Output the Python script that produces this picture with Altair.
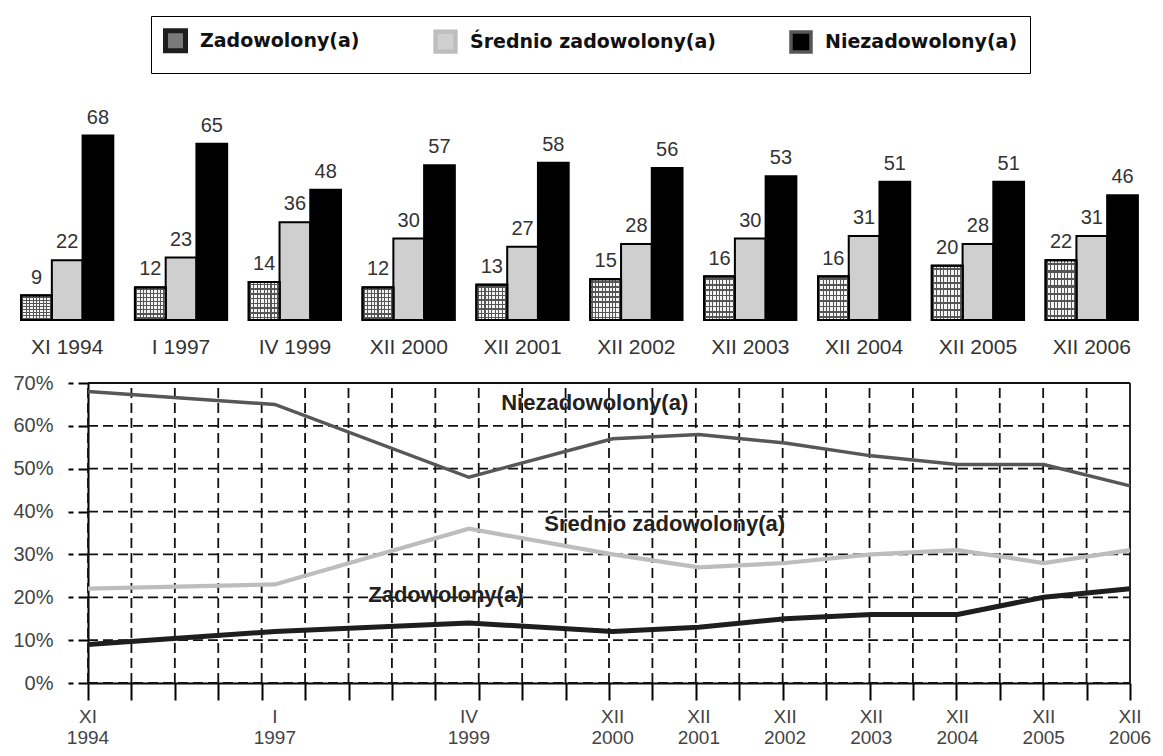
import altair as alt
import pandas as pd

# ---------------- data ----------------
periods = ["XI 1994", "I 1997", "IV 1999", "XII 2000", "XII 2001",
           "XII 2002", "XII 2003", "XII 2004", "XII 2005", "XII 2006"]
series = ["Zadowolony(a)", "Średnio zadowolony(a)", "Niezadowolony(a)"]
zadowolony = [9, 12, 14, 12, 13, 15, 16, 16, 20, 22]
srednio = [22, 23, 36, 30, 27, 28, 30, 31, 28, 31]
niezadowolony = [68, 65, 48, 57, 58, 56, 53, 51, 51, 46]

y_ticks = [0, 0.1, 0.2, 0.3, 0.4, 0.5, 0.6, 0.7]

# in-plot line labels (data coordinates: months since XI 1994, share)
line_label_text = ["Zadowolony(a)", "Średnio zadowolony(a)", "Niezadowolony(a)"]
line_label_month = [39.0, 63.5, 57.5]
line_label_share = [0.205, 0.37, 0.653]

ROMAN = {"I": 1, "II": 2, "III": 3, "IV": 4, "V": 5, "VI": 6, "VII": 7,
         "VIII": 8, "IX": 9, "X": 10, "XI": 11, "XII": 12}


def months_since_start(label):
    m, y = label.split()
    return (int(y) - 1994) * 12 + ROMAN[m] - 11


rows = []
for i, p in enumerate(periods):
    for s, vals in zip(series, [zadowolony, srednio, niezadowolony]):
        rows.append({"period": p, "series": s, "value": vals[i],
                     "share": vals[i] / 100, "month": months_since_start(p)})
df = pd.DataFrame(rows)
period_df = pd.DataFrame({"period": periods,
                          "month": [months_since_start(p) for p in periods],
                          "xlabel": [p.replace(" ", "\n") for p in periods]})
label_df = pd.DataFrame({"label": line_label_text, "month": line_label_month,
                         "share": line_label_share})

span = months_since_start(periods[-1])
grid_months = [span * i / 24 for i in range(25)]
hgrid_df = pd.DataFrame({"share": y_ticks, "month": [0] * len(y_ticks),
                         "month2": [span] * len(y_ticks)})
vgrid_df = pd.DataFrame({"month": grid_months, "share": [0] * len(grid_months),
                         "share2": [y_ticks[-1]] * len(grid_months)})

FONT = "Liberation Sans"


def stripes(n, line, bg, frac=0.3, horizontal=False):
    stops = [{"offset": 0, "color": bg}]
    lw = frac / n
    for i in range(n):
        c = (i + 0.5) / n
        a, b = c - lw / 2, c + lw / 2
        stops += [{"offset": a, "color": bg}, {"offset": a, "color": line},
                  {"offset": b, "color": line}, {"offset": b, "color": bg}]
    stops.append({"offset": 1, "color": bg})
    g = {"gradient": "linear", "stops": stops}
    if horizontal:
        g.update({"x1": 0, "x2": 0, "y1": 0, "y2": 1})
    else:
        g.update({"x1": 0, "x2": 1, "y1": 0, "y2": 0})
    return g


# ---------------- layout (pixel ranges inside one view) ----------------
VIEW_W, VIEW_H = 1135, 675
BAR_BASE = 312                 # bottom of the bar block
LINE_LEFT, LINE_RIGHT = 76, 1118
LINE_TOP = 375

# ---------------- bar block ----------------
BX = alt.X("period:N", sort=periods,
           scale=alt.Scale(paddingInner=0.19, paddingOuter=0.08, range=[0, VIEW_W]),
           axis=alt.Axis(orient="bottom", offset=BAR_BASE - VIEW_H, title=None,
                         labelAngle=0, domain=False, ticks=False,
                         labelFontSize=21, labelFont=FONT, labelColor="#333",
                         labelPadding=16))
BXO = alt.XOffset("series:N", sort=series,
                  scale=alt.Scale(domain=series, paddingInner=0, paddingOuter=0))
BY = alt.Y("value:Q", scale=alt.Scale(domain=[0, 115], nice=False, range=[BAR_BASE, 0]),
           axis=None)

bar_base = alt.Chart(df)

bars = bar_base.mark_bar(stroke="black", strokeWidth=2).encode(
    x=BX, xOffset=BXO, y=BY,
    fill=alt.Fill("series:N", sort=series,
                  scale=alt.Scale(domain=series, range=["#7a7a7a", "#cfcfcf", "#000000"]),
                  legend=alt.Legend(title=None, orient="none", legendX=139, legendY=8,
                                    direction="horizontal", strokeColor="black",
                                    padding=12, columnPadding=67,
                                    labelFontSize=19, labelFontWeight="bold",
                                    labelFont="DejaVu Sans", labelColor="#111",
                                    labelLimit=300, symbolType="square",
                                    symbolSize=400, symbolStrokeColor="black",
                                    symbolStrokeWidth=2, labelOffset=12,
                                    symbolOpacity=1)),
)

zad_only = bar_base.transform_filter(alt.datum.series == series[0])
check_v = zad_only.mark_bar(fill=stripes(9, "#555555", "#f4f4f4"),
                            stroke="black", strokeWidth=2).encode(x=BX, xOffset=BXO, y=BY)
check_h = zad_only.mark_bar(fill=stripes(8, "#555555", "rgba(255,255,255,0)", horizontal=True),
                            stroke="black", strokeWidth=2).encode(x=BX, xOffset=BXO, y=BY)

bar_text = bar_base.mark_text(baseline="alphabetic", dy=-12, fontSize=20,
                              font=FONT, color="#333").encode(
    x=BX, xOffset=BXO, y=BY, text="value:Q")

bar_block = alt.layer(bars, check_v, check_h, bar_text)

# ---------------- line block ----------------
LX = alt.X("month:Q",
           scale=alt.Scale(domain=[0, span], nice=False, zero=False,
                           range=[LINE_LEFT, LINE_RIGHT]),
           axis=alt.Axis(orient="bottom", values=grid_months, grid=False, labels=False,
                         tickSize=17, tickColor="black", tickWidth=2,
                         domainColor="black", domainWidth=2, title=None))
LY = alt.Y("share:Q",
           scale=alt.Scale(domain=[0, 0.7], nice=False, range=[VIEW_H, LINE_TOP]),
           axis=alt.Axis(orient="left", offset=-LINE_LEFT, values=y_ticks, format=".0%",
                         grid=False, tickSize=20, tickDash=[10, 5], tickColor="black",
                         tickWidth=2, domainColor="black", domainWidth=2,
                         labelFontSize=20, labelFont=FONT, labelColor="#444",
                         labelPadding=15, title=None))

SOLID = [1, 0]
DASH = [10, 5]

hgrid = alt.Chart(hgrid_df).mark_rule(color="#111", strokeWidth=1.8).encode(
    x=LX, x2="month2:Q", y=LY,
    strokeDash=alt.condition(alt.datum.share >= y_ticks[-1] - 1e-9,
                             alt.value(SOLID), alt.value(DASH)))
vgrid = alt.Chart(vgrid_df).mark_rule(color="#111", strokeWidth=1.8).encode(
    x=LX, y=LY, y2="share2:Q",
    strokeDash=alt.condition(alt.datum.month >= span - 1e-9,
                             alt.value(SOLID), alt.value(DASH)))

lines = alt.Chart(df).mark_line().encode(
    x=LX, y=LY,
    stroke=alt.Stroke("series:N", sort=series,
                      scale=alt.Scale(domain=series, range=["#1e1e1e", "#bdbdbd", "#575757"]),
                      legend=None),
    strokeWidth=alt.StrokeWidth("series:N", sort=series,
                                scale=alt.Scale(domain=series, range=[5, 3.5, 3.5]),
                                legend=None),
)

line_labels = alt.Chart(label_df).mark_text(
    align="left", baseline="middle", fontSize=22, fontWeight="bold",
    font=FONT, color="#222").encode(x=LX, y=LY, text="label:N")

x_labels = alt.Chart(period_df).mark_text(
    baseline="top", dy=25, fontSize=19, font=FONT, color="#444",
    lineBreak="\n", lineHeight=21).encode(x=LX, y=alt.datum(0), text="xlabel:N")

line_block = alt.layer(hgrid, vgrid, lines, line_labels, x_labels)

chart = alt.layer(bar_block, line_block).resolve_scale(
    x="independent", y="independent"
).properties(
    width=VIEW_W, height=VIEW_H,
    padding={"left": 4, "top": 0, "right": 0, "bottom": 0}
).configure(font=FONT).configure_view(strokeWidth=0)

chart.save("out.html", embed_options={"renderer": "svg", "actions": False})
